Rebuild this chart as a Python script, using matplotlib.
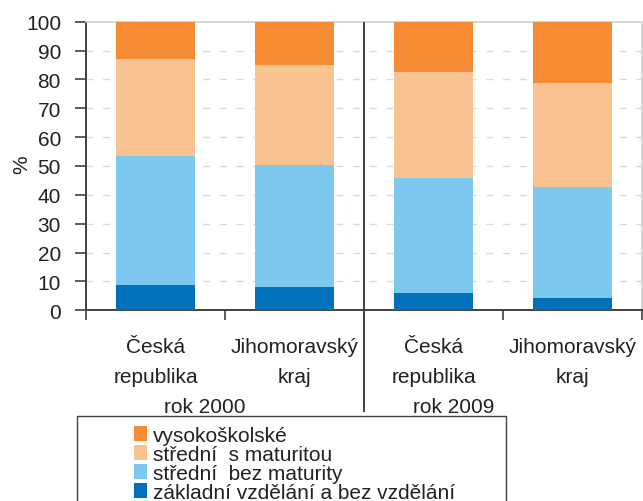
import matplotlib
matplotlib.use("Agg")
import matplotlib.pyplot as plt
import matplotlib.transforms as mtransforms
from matplotlib.patches import Rectangle, Patch
import numpy as np

plt.rcParams['font.family'] = ['Liberation Sans', 'DejaVu Sans']

categories = ["Česká\nrepublika", "Jihomoravský\nkraj", "Česká\nrepublika", "Jihomoravský\nkraj"]
groups = ["rok 2000", "rok 2009"]
series_names = ["základní vzdělání a bez vzdělání", "střední  bez maturity",
                "střední  s maturitou", "vysokoškolské"]
zakladni = [8.9, 8.2, 5.9, 4.4]
stredni_bez = [44.5, 42.1, 39.9, 38.4]
stredni_s = [33.7, 34.6, 36.9, 36.1]
vysokoskolske = [12.9, 15.1, 17.3, 21.1]
colors = ["#0070BA", "#7CC8EE", "#F9C291", "#F58B32"]
yticks = list(range(0, 101, 10))

FS = 15
TXT = '#222222'
W, H = 643, 502
fig = plt.figure(figsize=(W / 100, H / 100), dpi=100)
ax = fig.add_axes([86 / W, 1 - 311.3 / H, (642 - 86) / W, (311.3 - 22.7) / H])

x = np.arange(len(categories))
bottom = np.zeros(len(categories))
for vals, col in zip([zakladni, stredni_bez, stredni_s, vysokoskolske], colors):
    ax.bar(x, vals, width=0.565, bottom=bottom, color=col, edgecolor='none', zorder=3)
    bottom += np.array(vals)

ax.set_xlim(-0.5, 3.5)
ax.set_ylim(0, 100)
ax.set_yticks(yticks)
ax.set_yticklabels([str(t) for t in yticks], fontsize=FS, color=TXT)
ax.set_xticks([-0.5, 0.5, 1.5, 2.5, 3.5])
ax.set_xticklabels([])
ax.tick_params(axis='x', direction='out', length=7, width=1.2, color='#404040')
ax.tick_params(axis='y', direction='out', length=8, width=1.2, color='#404040', pad=10)

for yv in yticks[1:-1]:
    ax.axhline(yv, color='#d9d9d9', lw=1.0, ls=(0, (5, 7)), zorder=1)

for s in ['left', 'bottom']:
    ax.spines[s].set_color('#404040')
    ax.spines[s].set_linewidth(1.4)
for s in ['top', 'right']:
    ax.spines[s].set_color('#d0d0d0')
    ax.spines[s].set_linewidth(1.2)

ax.set_ylabel('%', fontsize=FS, color=TXT)
ax.yaxis.set_label_coords(-0.098, 0.507)

# group divider
trans = mtransforms.blended_transform_factory(ax.transData, ax.transAxes)
ax.plot([1.5, 1.5], [0.995, -0.349], transform=trans, color='#404040', lw=1.4,
        clip_on=False, zorder=5)

# category labels
for xi, lab in zip(x, categories):
    l1, l2 = lab.split("\n")
    ax.text(xi, -0.126, l1, transform=trans, ha='center', va='center', fontsize=FS, color=TXT)
    ax.text(xi, -0.229, l2, transform=trans, ha='center', va='center', fontsize=FS, color=TXT)
for gx, g in zip([0.356, 2.147], groups):
    ax.text(gx, -0.334, g, transform=trans, ha='center', va='center', fontsize=FS, color=TXT)

# legend frame
fig.patches.append(Rectangle((77 / W, -0.05), (506 - 77) / W, 1 - 417 / H + 0.05,
                             transform=fig.transFigure, fill=False, edgecolor='#404040', lw=1.0))
handles = [Patch(facecolor=c, edgecolor='none') for c in colors][::-1]
leg = fig.legend(handles, series_names[::-1], loc='upper left',
                 bbox_to_anchor=(134 / W, 1 - 427 / H), frameon=False, fontsize=FS,
                 handlelength=0.62, handleheight=0.7, handletextpad=0.3,
                 labelspacing=0.0, borderpad=0, borderaxespad=0)
for t in leg.get_texts():
    t.set_color(TXT)

fig.savefig('out.png', dpi=100)
